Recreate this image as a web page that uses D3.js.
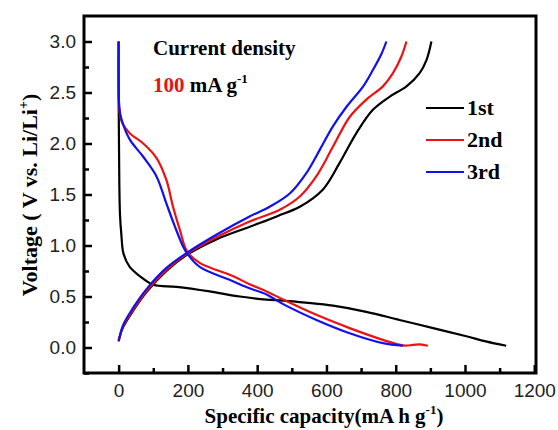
<!DOCTYPE html>
<html>
<head>
<meta charset="utf-8">
<script src="https://cdn.jsdelivr.net/npm/d3@7"></script>
<style>
  body { margin: 0; background: #fff; }
  svg { display: block; }
</style>
</head>
<body>
<script>
'use strict';

// cycle labels + colours
var cycles = ['1st', '2nd', '3rd'];
var colors = ['#000000', '#ee1111', '#1111ee'];

// [capacity mAh/g, voltage V]
var discharge1 = [[0,3.0],[0,2.5],[1,2.0],[2,1.6],[4,1.3],[8,1.1],[14,0.92],[32,0.79],[61,0.70],[100,0.615],[167,0.595],[263,0.55],[350,0.50],[427,0.47],[475,0.46],[540,0.44],[619,0.41],[715,0.35],[811,0.27],[908,0.19],[1004,0.11],[1060,0.06],[1119,0.017]];
var discharge2 = [[0,3.0],[0,2.6],[1,2.4],[4,2.28],[12,2.19],[32,2.10],[71,2.0],[109,1.86],[138,1.64],[157,1.38],[177,1.15],[198,0.94],[234,0.83],[330,0.70],[378,0.62],[427,0.55],[475,0.47],[571,0.32],[667,0.19],[763,0.075],[821,0.02],[850,0.025],[870,0.03],[893,0.017]];
var discharge3 = [[0,3.0],[0,2.6],[2,2.35],[8,2.24],[32,2.04],[71,1.87],[109,1.68],[138,1.41],[162,1.19],[186,0.99],[198,0.92],[234,0.79],[330,0.65],[378,0.58],[427,0.52],[475,0.425],[571,0.27],[667,0.14],[763,0.043],[821,0.017]];

var charge1 = [[0,0.07],[13,0.2],[42,0.36],[80,0.54],[138,0.75],[198,0.91],[282,1.06],[359,1.16],[407,1.22],[460,1.29],[523,1.38],[590,1.55],[638,1.81],[686,2.10],[734,2.33],[783,2.46],[831,2.56],[869,2.69],[889,2.82],[903,3.0]];
var charge2 = [[0,0.06],[13,0.21],[42,0.37],[80,0.55],[138,0.76],[198,0.92],[282,1.08],[378,1.235],[465,1.35],[523,1.48],[571,1.68],[619,1.97],[667,2.26],[715,2.43],[763,2.56],[792,2.69],[816,2.85],[831,3.0]];
var charge3 = [[0,0.06],[13,0.22],[42,0.39],[80,0.57],[138,0.78],[198,0.93],[282,1.105],[378,1.284],[436,1.38],[494,1.51],[542,1.71],[581,1.94],[619,2.17],[658,2.36],[706,2.56],[734,2.72],[759,2.88],[773,3.0]];

var xTicks = [0, 200, 400, 600, 800, 1000, 1200];
var xMinor = [100, 300, 500, 700, 900, 1100];
var yTicks = [0.0, 0.5, 1.0, 1.5, 2.0, 2.5, 3.0];
var yMinor = [-0.25, 0.25, 0.75, 1.25, 1.75, 2.25, 2.75];

var width = 558, height = 430;
var plotLeft = 84, plotRight = 536, plotTop = 16, plotBottom = 373;

var svg = d3.select('body').append('svg')
    .attr('width', width)
    .attr('height', height);

var x = d3.scaleLinear().domain([-100, 1205]).range([plotLeft, plotRight]);
var y = d3.scaleLinear().domain([-0.25, 3.25]).range([plotBottom, plotTop]);

var numFont = '"Liberation Sans", Arial, sans-serif';
var serif = '"Liberation Serif", "Times New Roman", serif';

// curves
var line = d3.line()
    .x(function (d) { return x(d[0]); })
    .y(function (d) { return y(d[1]); })
    .curve(d3.curveCatmullRom.alpha(0.5));

var series = [
  [discharge1, 0], [charge1, 0],
  [discharge2, 1], [charge2, 1],
  [discharge3, 2], [charge3, 2]
];

svg.append('g').selectAll('path')
  .data(series)
  .enter().append('path')
    .attr('d', function (s) { return line(s[0]); })
    .attr('fill', 'none')
    .attr('stroke', function (s) { return colors[s[1]]; })
    .attr('stroke-width', 2.2)
    .attr('stroke-linejoin', 'round');

// axes, ticks pointing inward
svg.append('g')
  .attr('transform', 'translate(0,' + plotBottom + ')')
  .call(d3.axisBottom(x).tickValues(xTicks).tickSize(-8).tickPadding(11).tickFormat(d3.format('d')));

svg.append('g')
  .attr('transform', 'translate(0,' + plotBottom + ')')
  .call(d3.axisBottom(x).tickValues(xMinor).tickSize(-5).tickFormat(''));

svg.append('g')
  .attr('transform', 'translate(' + plotLeft + ',0)')
  .call(d3.axisLeft(y).tickValues(yTicks).tickSize(-8).tickPadding(8).tickFormat(d3.format('.1f')));

svg.append('g')
  .attr('transform', 'translate(' + plotLeft + ',0)')
  .call(d3.axisLeft(y).tickValues(yMinor).tickSize(-5).tickFormat(''));

svg.selectAll('.domain').remove();
svg.selectAll('.tick line').attr('stroke', '#000').attr('stroke-width', 2.5);
svg.selectAll('.tick text')
  .attr('font-family', numFont)
  .attr('font-size', 19)
  .attr('fill', '#222');

// frame
svg.append('rect')
  .attr('x', plotLeft).attr('y', plotTop)
  .attr('width', plotRight - plotLeft).attr('height', plotBottom - plotTop)
  .attr('fill', 'none')
  .attr('stroke', '#000')
  .attr('stroke-width', 3);

// axis titles
var xt = svg.append('text')
  .attr('x', (plotLeft + plotRight) / 2 + 14)
  .attr('y', 423)
  .attr('text-anchor', 'middle')
  .attr('font-family', serif)
  .attr('font-weight', 'bold')
  .attr('font-size', 21);
xt.append('tspan').text('Specific capacity(mA h g');
xt.append('tspan').attr('dy', -9).attr('font-size', 13).text('-1');
xt.append('tspan').attr('dy', 9).text(')');

var yt = svg.append('text')
  .attr('transform', 'translate(37,195) rotate(-90)')
  .attr('text-anchor', 'middle')
  .attr('font-family', serif)
  .attr('font-weight', 'bold')
  .attr('font-size', 22);
yt.append('tspan').text('Voltage ( V vs. Li/Li');
yt.append('tspan').attr('dy', -9).attr('font-size', 14).text('+');
yt.append('tspan').attr('dy', 9).text(')');

// annotation
svg.append('text')
  .attr('x', 153).attr('y', 55)
  .attr('font-family', serif)
  .attr('font-weight', 'bold')
  .attr('font-size', 21)
  .text('Current density');

var ann = svg.append('text')
  .attr('x', 153).attr('y', 92)
  .attr('font-family', serif)
  .attr('font-weight', 'bold')
  .attr('font-size', 21);
ann.append('tspan').attr('fill', colors[1]).text('100');
ann.append('tspan').text(' mA g');
ann.append('tspan').attr('dy', -9).attr('font-size', 13).text('-1');

// legend
var legend = svg.append('g').selectAll('g')
  .data(cycles)
  .enter().append('g')
    .attr('transform', function (d, i) { return 'translate(426,' + (108 + i * 32) + ')'; });

legend.append('line')
  .attr('x1', 0).attr('x2', 38)
  .attr('stroke', function (d, i) { return colors[i]; })
  .attr('stroke-width', 2.2);

legend.append('text')
  .attr('x', 41).attr('y', 7)
  .attr('font-family', serif)
  .attr('font-weight', 'bold')
  .attr('font-size', 22)
  .text(function (d) { return d; });
</script>
</body>
</html>
